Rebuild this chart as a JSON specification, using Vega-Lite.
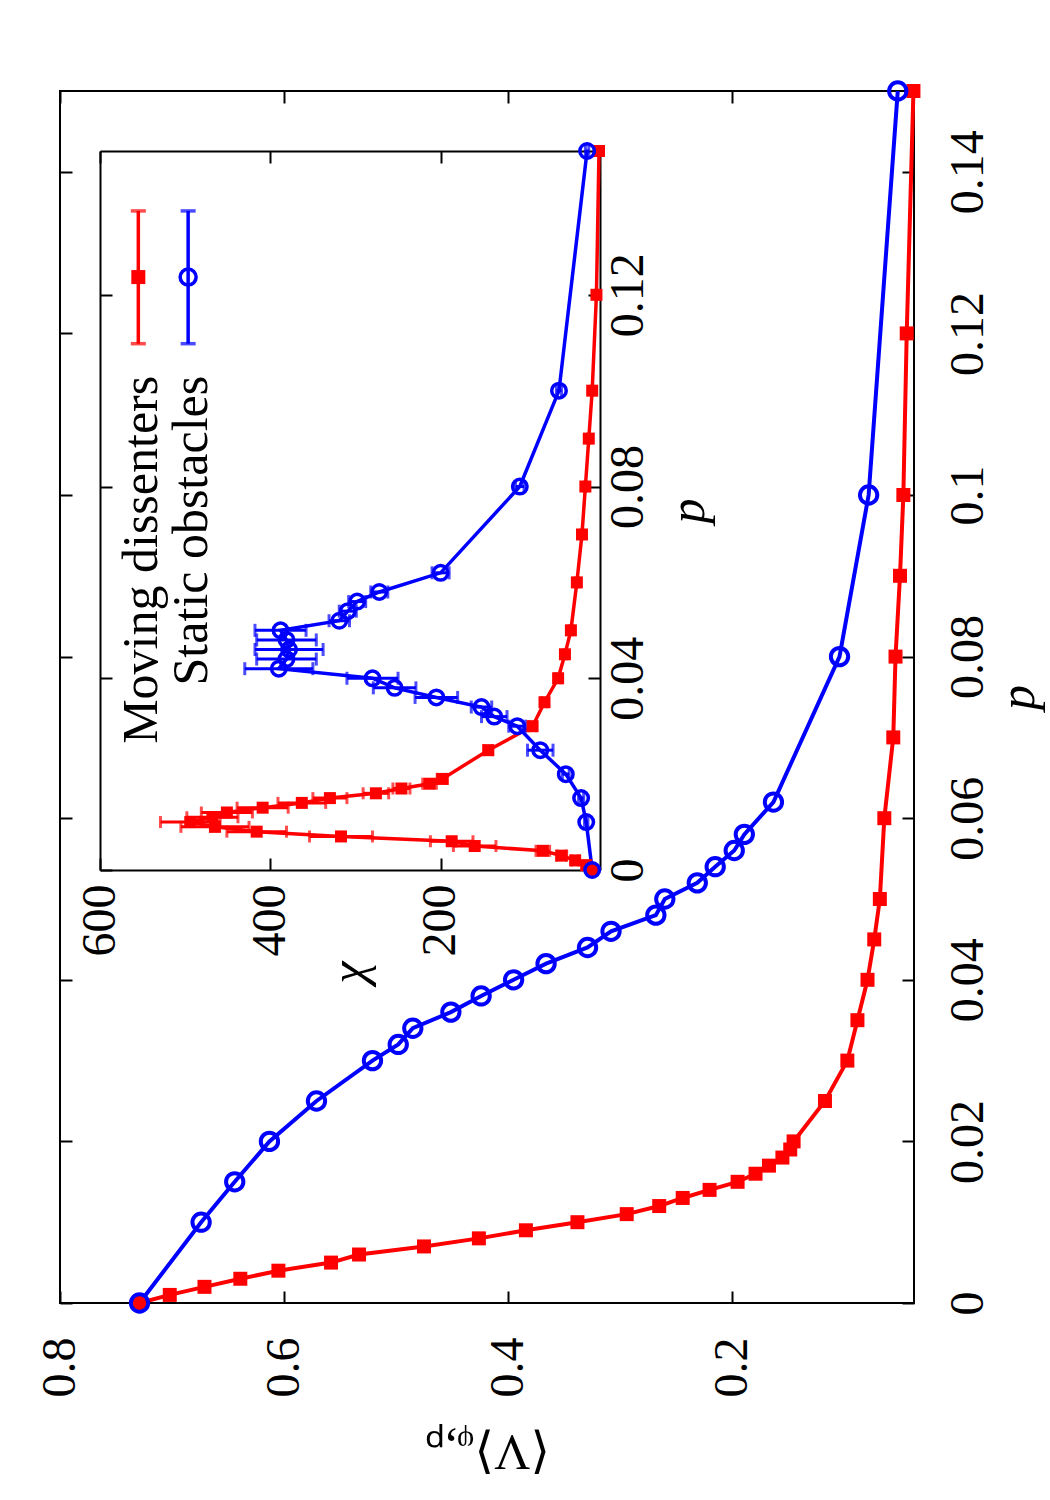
{
  "$schema": "https://vega.github.io/schema/vega-lite/v6.json",
  "width": 854,
  "height": 1212,
  "autosize": {"type": "none"},
  "padding": {"left": 60, "top": 91, "right": 136, "bottom": 197},
  "background": "white",
  "config": {
    "view": {"stroke": "black", "strokeWidth": 2},
    "font": "Liberation Serif",
    "axis": {
      "grid": false,
      "labelFont": "Liberation Serif",
      "labelFontSize": 48,
      "labelColor": "black",
      "labelFlush": false,
      "labelOverlap": false,
      "labelBound": false,
      "titleFont": "Liberation Serif",
      "titleFontSize": 50,
      "titleFontWeight": "normal",
      "titleColor": "black",
      "tickColor": "black",
      "tickWidth": 2,
      "domainColor": "black",
      "domainWidth": 2
    }
  },
  "datasets": {
    "mainRed": [
      {"p": 0, "V": 0.729}, {"p": 0.001, "V": 0.702}, {"p": 0.002, "V": 0.671}, {"p": 0.003, "V": 0.639},
      {"p": 0.004, "V": 0.605}, {"p": 0.005, "V": 0.558}, {"p": 0.006, "V": 0.533}, {"p": 0.007, "V": 0.475},
      {"p": 0.008, "V": 0.426}, {"p": 0.009, "V": 0.384}, {"p": 0.01, "V": 0.338}, {"p": 0.011, "V": 0.294},
      {"p": 0.012, "V": 0.265}, {"p": 0.013, "V": 0.244}, {"p": 0.014, "V": 0.22}, {"p": 0.015, "V": 0.195},
      {"p": 0.016, "V": 0.179}, {"p": 0.017, "V": 0.167}, {"p": 0.018, "V": 0.155}, {"p": 0.019, "V": 0.148},
      {"p": 0.02, "V": 0.145}, {"p": 0.025, "V": 0.117}, {"p": 0.03, "V": 0.097}, {"p": 0.035, "V": 0.088},
      {"p": 0.04, "V": 0.079}, {"p": 0.045, "V": 0.073}, {"p": 0.05, "V": 0.068}, {"p": 0.06, "V": 0.064},
      {"p": 0.07, "V": 0.056}, {"p": 0.08, "V": 0.054}, {"p": 0.09, "V": 0.05}, {"p": 0.1, "V": 0.047},
      {"p": 0.12, "V": 0.044}, {"p": 0.15, "V": 0.038}
    ],
    "mainBlue": [
      {"p": 0, "V": 0.729}, {"p": 0.01, "V": 0.674}, {"p": 0.015, "V": 0.644}, {"p": 0.02, "V": 0.613},
      {"p": 0.025, "V": 0.571}, {"p": 0.03, "V": 0.521}, {"p": 0.032, "V": 0.498}, {"p": 0.034, "V": 0.485},
      {"p": 0.036, "V": 0.451}, {"p": 0.038, "V": 0.424}, {"p": 0.04, "V": 0.395}, {"p": 0.042, "V": 0.366},
      {"p": 0.044, "V": 0.329}, {"p": 0.046, "V": 0.308}, {"p": 0.048, "V": 0.268}, {"p": 0.05, "V": 0.26},
      {"p": 0.052, "V": 0.231}, {"p": 0.054, "V": 0.215}, {"p": 0.056, "V": 0.198}, {"p": 0.058, "V": 0.189},
      {"p": 0.062, "V": 0.163}, {"p": 0.08, "V": 0.104}, {"p": 0.1, "V": 0.078}, {"p": 0.15, "V": 0.052}
    ],
    "insetRed": [
      {"p": 0, "chi": 21, "err": 1}, {"p": 0.001, "chi": 29, "err": 3}, {"p": 0.002, "chi": 42, "err": 4},
      {"p": 0.003, "chi": 58, "err": 6}, {"p": 0.004, "chi": 80, "err": 8}, {"p": 0.005, "chi": 160, "err": 25},
      {"p": 0.006, "chi": 187, "err": 25}, {"p": 0.007, "chi": 317, "err": 37}, {"p": 0.008, "chi": 416, "err": 35},
      {"p": 0.009, "chi": 465, "err": 40}, {"p": 0.01, "chi": 494, "err": 35}, {"p": 0.011, "chi": 468, "err": 30},
      {"p": 0.012, "chi": 451, "err": 30}, {"p": 0.013, "chi": 409, "err": 30}, {"p": 0.014, "chi": 363, "err": 28},
      {"p": 0.015, "chi": 330, "err": 20}, {"p": 0.016, "chi": 276, "err": 15}, {"p": 0.017, "chi": 246, "err": 10},
      {"p": 0.018, "chi": 213, "err": 8}, {"p": 0.019, "chi": 198, "err": 6}, {"p": 0.025, "chi": 144, "err": 5},
      {"p": 0.03, "chi": 92, "err": 4}, {"p": 0.035, "chi": 78, "err": 3}, {"p": 0.04, "chi": 62, "err": 3},
      {"p": 0.045, "chi": 54, "err": 2}, {"p": 0.05, "chi": 47, "err": 2}, {"p": 0.06, "chi": 40, "err": 2},
      {"p": 0.07, "chi": 34, "err": 1}, {"p": 0.08, "chi": 30, "err": 1}, {"p": 0.09, "chi": 26, "err": 1},
      {"p": 0.1, "chi": 22, "err": 1}, {"p": 0.12, "chi": 17, "err": 1}, {"p": 0.15, "chi": 14, "err": 0}
    ],
    "insetBlue": [
      {"p": 0, "chi": 22, "err": 1}, {"p": 0.01, "chi": 29, "err": 2}, {"p": 0.015, "chi": 35, "err": 3},
      {"p": 0.02, "chi": 53, "err": 4}, {"p": 0.025, "chi": 83, "err": 15}, {"p": 0.03, "chi": 110, "err": 10},
      {"p": 0.032, "chi": 137, "err": 15}, {"p": 0.034, "chi": 152, "err": 12}, {"p": 0.036, "chi": 205, "err": 25},
      {"p": 0.038, "chi": 254, "err": 25}, {"p": 0.04, "chi": 280, "err": 30}, {"p": 0.042, "chi": 390, "err": 40},
      {"p": 0.044, "chi": 381, "err": 35}, {"p": 0.046, "chi": 378, "err": 40}, {"p": 0.048, "chi": 381, "err": 35},
      {"p": 0.05, "chi": 388, "err": 30}, {"p": 0.052, "chi": 319, "err": 12}, {"p": 0.054, "chi": 309, "err": 10},
      {"p": 0.056, "chi": 298, "err": 10}, {"p": 0.058, "chi": 272, "err": 10}, {"p": 0.062, "chi": 200, "err": 10},
      {"p": 0.08, "chi": 107, "err": 5}, {"p": 0.1, "chi": 61, "err": 3}, {"p": 0.15, "chi": 28, "err": 2}
    ],
    "legendKeys": [
      {"series": "Moving dissenters", "chi": 555, "plo": 0.1098, "phi": 0.1375, "p": 0.1237},
      {"series": "Static obstacles", "chi": 496.5, "plo": 0.1098, "phi": 0.1375, "p": 0.1237}
    ],
    "legendText": [
      {"label": "Moving dissenters", "chi": 533, "p": 0.1031},
      {"label": "Static obstacles", "chi": 474.6, "p": 0.1031}
    ]
  },
  "layer": [
    {
      "layer": [
        {
          "data": {"name": "mainRed"},
          "mark": {"type": "line", "color": "#ff0000", "strokeWidth": 4},
          "encoding": {
            "x": {"field": "V", "type": "quantitative",
              "scale": {"domain": [0.0375, 0.8], "reverse": true, "nice": false, "zero": false},
              "axis": {"orient": "bottom", "values": [0.2, 0.4, 0.6, 0.8], "labelExpr": "format(datum.value, '~g')",
                "labelFont": "Liberation Serif", "labelAngle": 270,
                "labelAlign": "right", "labelBaseline": "middle", "labelPadding": 34, "ticks": false, "domain": false,
                "title": "⟨V⟩ᵩ,ₚ", "titleFont": "Liberation Serif", "titleAngle": 180, "titleBaseline": "middle", "titleAlign": "center",
                "titleX": 427, "titleY": 147}},
            "y": {"field": "p", "type": "quantitative",
              "scale": {"domain": [0, 0.15], "nice": false, "zero": false},
              "axis": {"orient": "right", "values": [0, 0.02, 0.04, 0.06, 0.08, 0.1, 0.12, 0.14], "labelExpr": "format(datum.value, '~g')",
                "labelFont": "Liberation Serif",
                "labelAngle": 270, "labelAlign": "center", "labelBaseline": "alphabetic", "labelPadding": 68,
                "ticks": false, "domain": false, "title": "p", "titleFont": "Liberation Serif", "titleFontStyle": "italic", "titleAngle": 270,
                "titleBaseline": "middle", "titleAlign": "center", "titleX": 104, "titleY": 606}},
            "order": {"field": "p", "type": "quantitative"}
          }
        },
        {
          "data": {"name": "mainBlue"},
          "mark": {"type": "line", "color": "#0000ff", "strokeWidth": 4},
          "encoding": {
            "x": {"field": "V", "type": "quantitative",
              "axis": {"orient": "bottom", "values": [0.2, 0.4, 0.6, 0.8], "labels": false, "ticks": true,
                "tickSize": -12, "domain": false, "title": null}},
            "y": {"field": "p", "type": "quantitative",
              "axis": {"orient": "right", "values": [0, 0.02, 0.04, 0.06, 0.08, 0.1, 0.12, 0.14], "labels": false,
                "ticks": true, "tickSize": -12, "domain": false, "title": null}},
            "order": {"field": "p", "type": "quantitative"}
          }
        },
        {
          "data": {"name": "mainRed"},
          "mark": {"type": "point", "shape": "square", "filled": true, "color": "#ff0000", "size": 196, "opacity": 1},
          "encoding": {
            "x": {"field": "V", "type": "quantitative",
              "axis": {"orient": "top", "values": [0.2, 0.4, 0.6, 0.8], "labels": false, "ticks": true,
                "tickSize": -12, "domain": false, "title": null}},
            "y": {"field": "p", "type": "quantitative",
              "axis": {"orient": "left", "values": [0, 0.02, 0.04, 0.06, 0.08, 0.1, 0.12, 0.14], "labels": false,
                "ticks": true, "tickSize": -12, "domain": false, "title": null}}
          }
        },
        {
          "data": {"name": "mainBlue"},
          "mark": {"type": "point", "shape": "circle", "filled": false, "color": "#0000ff", "size": 300, "strokeWidth": 4, "opacity": 1},
          "encoding": {
            "x": {"field": "V", "type": "quantitative", "axis": null},
            "y": {"field": "p", "type": "quantitative", "axis": null}
          }
        }
      ],
      "resolve": {"axis": {"x": "independent", "y": "independent"}}
    },
    {
      "layer": [
        {
          "data": {"name": "insetRed"},
          "mark": {"type": "line", "color": "#ff0000", "strokeWidth": 3.5},
          "encoding": {
            "x": {"field": "chi", "type": "quantitative",
              "scale": {"domain": [14, 600], "range": [539, 40], "nice": false, "zero": false},
              "axis": {"orient": "bottom", "offset": -433, "values": [200, 400, 600], "labelExpr": "format(datum.value, 'd')",
                "labelFont": "Liberation Serif", "labelAngle": 270,
                "labelAlign": "right", "labelBaseline": "middle", "labelPadding": 14, "ticks": false, "domain": false,
                "title": "χ", "titleFont": "Liberation Serif", "titleFontStyle": "italic", "titleAngle": 270, "titleBaseline": "middle",
                "titleAlign": "center", "titleX": 289.5, "titleY": 102}},
            "y": {"field": "p", "type": "quantitative",
              "scale": {"domain": [0, 0.15], "range": [779, 60], "nice": false, "zero": false},
              "axis": {"orient": "right", "offset": -314, "values": [0, 0.04, 0.08, 0.12], "labelExpr": "format(datum.value, '~g')",
                "labelFont": "Liberation Serif",
                "labelAngle": 270, "labelAlign": "center", "labelBaseline": "alphabetic", "labelPadding": 42,
                "ticks": false, "domain": false, "title": "p", "titleFont": "Liberation Serif", "titleFontStyle": "italic", "titleAngle": 270,
                "titleBaseline": "middle", "titleAlign": "center", "titleX": 88, "titleY": 419.5}},
            "order": {"field": "p", "type": "quantitative"}
          }
        },
        {
          "data": {"name": "insetBlue"},
          "mark": {"type": "line", "color": "#0000ff", "strokeWidth": 3.5},
          "encoding": {
            "x": {"field": "chi", "type": "quantitative",
              "axis": {"orient": "bottom", "offset": -433, "values": [200, 400, 600], "labels": false, "ticks": true,
                "tickSize": -12, "domain": true, "title": null}},
            "y": {"field": "p", "type": "quantitative",
              "axis": {"orient": "right", "offset": -314, "values": [0, 0.04, 0.08, 0.12], "labels": false,
                "ticks": true, "tickSize": -12, "domain": true, "title": null}},
            "order": {"field": "p", "type": "quantitative"}
          }
        },
        {
          "data": {"name": "insetRed"},
          "mark": {"type": "errorbar", "color": "#ff0000", "thickness": 3, "ticks": {"size": 12, "thickness": 3}},
          "encoding": {
            "x": {"field": "chi", "type": "quantitative", "axis": null},
            "xError": {"field": "err"},
            "y": {"field": "p", "type": "quantitative", "axis": null}
          }
        },
        {
          "data": {"name": "insetBlue"},
          "mark": {"type": "errorbar", "color": "#0000ff", "thickness": 3, "ticks": {"size": 13, "thickness": 3}},
          "encoding": {
            "x": {"field": "chi", "type": "quantitative", "axis": null},
            "xError": {"field": "err"},
            "y": {"field": "p", "type": "quantitative", "axis": null}
          }
        },
        {
          "data": {"name": "insetRed"},
          "mark": {"type": "point", "shape": "square", "filled": true, "color": "#ff0000", "size": 144, "opacity": 1},
          "encoding": {
            "x": {"field": "chi", "type": "quantitative",
              "axis": {"orient": "top", "offset": -60, "values": [200, 400, 600], "labels": false, "ticks": true,
                "tickSize": -12, "domain": true, "title": null}},
            "y": {"field": "p", "type": "quantitative",
              "axis": {"orient": "left", "offset": -40, "values": [0, 0.04, 0.08, 0.12], "labels": false,
                "ticks": true, "tickSize": -12, "domain": true, "title": null}}
          }
        },
        {
          "data": {"name": "insetBlue"},
          "mark": {"type": "point", "shape": "circle", "filled": false, "color": "#0000ff", "size": 210, "strokeWidth": 3.5, "opacity": 1},
          "encoding": {
            "x": {"field": "chi", "type": "quantitative", "axis": null},
            "y": {"field": "p", "type": "quantitative", "axis": null}
          }
        },
        {
          "data": {"name": "legendKeys"},
          "mark": {"type": "errorbar", "thickness": 3.5, "ticks": {"size": 15, "thickness": 3.5}},
          "encoding": {
            "x": {"field": "chi", "type": "quantitative", "axis": null},
            "y": {"field": "plo", "type": "quantitative", "axis": null},
            "y2": {"field": "phi"},
            "color": {"field": "series", "type": "nominal", "legend": null,
              "scale": {"domain": ["Moving dissenters", "Static obstacles"], "range": ["#ff0000", "#0000ff"]}}
          }
        },
        {
          "data": {"name": "legendKeys"},
          "transform": [{"filter": "datum.series === 'Moving dissenters'"}],
          "mark": {"type": "point", "shape": "square", "filled": true, "color": "#ff0000", "size": 196, "opacity": 1},
          "encoding": {
            "x": {"field": "chi", "type": "quantitative", "axis": null},
            "y": {"field": "p", "type": "quantitative", "axis": null}
          }
        },
        {
          "data": {"name": "legendKeys"},
          "transform": [{"filter": "datum.series === 'Static obstacles'"}],
          "mark": {"type": "point", "shape": "circle", "filled": false, "color": "#0000ff", "size": 256, "strokeWidth": 3.5, "opacity": 1},
          "encoding": {
            "x": {"field": "chi", "type": "quantitative", "axis": null},
            "y": {"field": "p", "type": "quantitative", "axis": null}
          }
        },
        {
          "data": {"name": "legendText"},
          "mark": {"type": "text", "angle": 270, "align": "right", "baseline": "alphabetic", "font": "Liberation Serif", "fontSize": 50, "color": "black"},
          "encoding": {
            "x": {"field": "chi", "type": "quantitative", "axis": null},
            "y": {"field": "p", "type": "quantitative", "axis": null},
            "text": {"field": "label"}
          }
        }
      ],
      "resolve": {"axis": {"x": "independent", "y": "independent"}}
    }
  ],
  "resolve": {"scale": {"x": "independent", "y": "independent"}}
}
